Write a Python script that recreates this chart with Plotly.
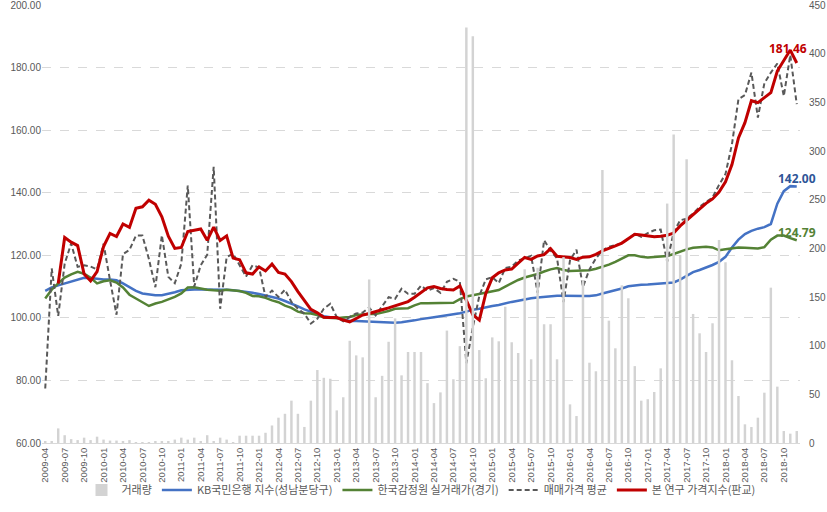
import plotly.graph_objects as go

# monthly categories 2009-04 .. 2018-12
months = []
y, m = 2009, 4
for _ in range(117):
    months.append(f"{y}-{m:02d}")
    m += 1
    if m > 12:
        m = 1
        y += 1

tick_labels = months[::3]

volume = [2, 2, 15, 8, 4, 3, 5.5, 3, 6.5, 3.5, 2.5, 2.5, 1.5, 3, 0.5, 1, 1, 1.5, 1.5, 2,
          3.5, 5.5, 3.5, 5.5, 2, 8, 2, 5.5, 3.5, 1, 7.5, 7.5, 7.5, 7.5, 10.5, 18, 26, 30, 43.5, 30,
          16.5, 43.5, 75, 67, 66, 33.5, 47, 105, 90, 88, 168, 47, 69, 104, 128, 69.5, 93.5, 93.5, 93.5, 61.5,
          41, 52, 115.5, 65.5, 99.5, 427, 418, 95.5, 66.5, 108.5, 104.5, 140, 103.5, 92.5, 178.5, 86, 180, 122, 122, 86,
          191, 39.7, 27.7, 167.5, 82.5, 73.7, 280.6, 125.7, 97.3, 162, 148.7, 79, 43.5, 45, 52.4, 76.7, 246, 317, 193, 291.5,
          132.6, 112.7, 93.5, 123, 208.6, 185.7, 85, 48.3, 19.2, 16.4, 26, 51.7, 159.6, 57.9, 12.3, 9.6, 12.3]

kb_index = [108.6, 109.7, 110.4, 111.0, 111.8, 112.4, 112.8, 112.7, 112.4, 112.3, 112.3, 112.0, 111.0, 109.7, 108.6, 107.8, 107.4, 107.2, 107.2, 107.6,
            108.2, 108.8, 109.0, 109.1, 109.1, 109.1, 109.1, 109.0, 109.0, 108.8, 108.6, 108.3, 108.0, 107.6, 107.2, 106.7, 106.2, 105.4, 104.6, 103.7,
            102.7, 101.9, 101.2, 100.5, 100.2, 100.0, 99.5, 99.0, 99.0, 98.9, 98.9, 98.8, 98.6, 98.4, 98.4, 98.6, 98.8, 99.2, 99.6, 100.0,
            100.2, 100.5, 100.8, 101.1, 101.5, 102.0, 102.6, 102.9, 103.4, 103.8, 104.1, 104.7, 105.1, 105.5, 106.0, 106.3, 106.5, 106.7, 107.0, 107.1,
            107.1, 107.0, 107.0, 107.0, 107.0, 107.2, 107.8, 108.3, 108.8, 109.4, 110.1, 110.4, 110.6, 110.7, 110.9, 110.9, 111.2, 111.3, 112.2, 113.4,
            114.6, 115.3, 116.0, 116.9, 117.9, 119.5, 122.5, 125.0, 126.8, 127.8, 128.5, 129.0, 130.0, 136.5, 140.5, 142.1, 142.0]

kab_index = [106.2, 109.0, 111.0, 112.9, 113.9, 114.7, 114.1, 112.8, 111.0, 111.7, 112.0, 111.3, 109.7, 107.4, 106.2, 105.1, 103.8, 104.6, 105.1, 105.9,
             106.7, 107.8, 109.7, 109.8, 109.3, 109.0, 108.8, 108.7, 109.0, 108.8, 108.6, 108.0, 107.0, 106.9, 106.4, 105.6, 105.0, 103.9, 103.2, 102.0,
             101.5, 101.4, 100.9, 100.1, 100.0, 99.9, 100.1, 100.3, 100.9, 101.1, 101.2, 101.2, 101.6, 102.2, 102.9, 103.0, 103.1, 104.0, 104.7, 104.7,
             104.7, 104.7, 104.7, 104.8, 106.0, 106.8, 107.2, 107.6, 107.9, 108.4, 108.9, 110.0, 111.1, 112.1, 112.9, 113.4, 114.0, 114.8, 115.5, 115.9,
             115.3, 115.0, 115.0, 115.0, 115.2, 115.7, 116.3, 117.0, 117.9, 118.9, 120.0, 120.0, 119.5, 119.3, 119.5, 119.7, 119.8, 120.4, 121.2, 121.9,
             122.4, 122.6, 122.7, 122.5, 121.6, 121.9, 122.3, 122.5, 122.4, 122.3, 122.2, 122.6, 125.0, 126.3, 126.3, 125.5, 124.79]

avg_price = [77.4, 115.8, 100.6, 117.3, 123.8, 116.3, 116.8, 116.4, 115.5, 123.7, 112.0, 101.0, 120.4, 121.7, 126.3, 126.3, 118.8, 109.8, 126.4, 113.1,
             111.1, 117.3, 142.3, 110.0, 116.8, 120.2, 148.3, 102.9, 119.4, 120.5, 116.8, 113.2, 116.8, 116.1, 106.7, 108.7, 106.7, 109.0, 105.1, 102.9,
             101.3, 98.2, 99.7, 102.9, 104.5, 100.2, 98.9, 100.3, 101.4, 101.7, 103.3, 100.8, 103.7, 106.6, 106.1, 109.3, 107.7, 107.7, 110.3, 108.7,
             109.5, 108.0, 111.5, 112.5, 111.5, 85.5, 97.0, 107.0, 112.3, 113.0, 111.1, 115.9, 116.4, 118.3, 119.0, 119.8, 108.0, 124.8, 121.5, 119.0,
             105.0, 118.4, 121.8, 109.9, 115.5, 119.0, 121.6, 122.7, 123.3, 123.8, 125.3, 126.9, 125.9, 127.1, 128.0, 128.2, 117.9, 127.4, 131.2, 131.7,
             133.3, 135.5, 137.0, 138.5, 142.5, 146.0, 155.5, 169.9, 171.2, 178.4, 164.0, 175.0, 178.4, 181.3, 170.9, 184.0, 168.3]

study_index = [None, None, 111.0, 125.7, 124.2, 123.1, 114.0, 111.8, 114.8, 122.8, 127.0, 126.0, 130.0, 128.9, 135.0, 135.5, 137.6, 136.3, 132.3, 126.1,
               122.2, 122.5, 127.6, 128.0, 128.4, 124.8, 129.0, 124.7, 126.2, 119.1, 118.6, 114.4, 114.0, 116.3, 115.0, 117.2, 114.5, 114.0, 111.6, 108.4,
               105.5, 102.7, 101.6, 100.2, 100.1, 100.1, 99.3, 98.7, 99.8, 100.9, 101.4, 101.9, 102.6, 103.2, 103.9, 104.6, 105.2, 106.6, 108.2, 109.6,
               110.0, 109.4, 109.1, 108.9, 110.2, 105.5, 101.0, 99.3, 107.8, 112.8, 114.4, 115.3, 115.6, 117.5, 119.3, 118.7, 119.8, 120.2, 122.1, 119.7,
               119.6, 119.3, 118.7, 119.4, 119.5, 120.3, 121.4, 122.1, 123.0, 123.9, 125.3, 126.7, 126.5, 126.1, 125.9, 126.1, 126.4, 127.1, 129.4, 131.2,
               133.1, 135.0, 136.6, 138.0, 140.2, 143.5, 149.0, 157.5, 162.4, 169.4, 168.8, 170.4, 172.0, 178.9, 182.3, 185.6, 181.46]

FONT = "Noto Sans CJK KR, Noto Sans, sans-serif"
NUM_FONT = "Liberation Sans, Arial, sans-serif"
TICK_COLOR = "#595959"


def end_label(values):
    return [""] * (len(values) - 1) + [f"{values[-1]:.2f}"]


fig = go.Figure()

fig.add_trace(go.Bar(
    x=months, y=volume, name="거래량", yaxis="y2",
    marker=dict(color="#D3D3D3", line=dict(width=0)),
))

fig.add_trace(go.Scatter(
    x=months, y=kb_index, name="KB국민은행 지수(성남분당구)", mode="lines+text",
    line=dict(color="#4472C4", width=2.5),
    text=end_label(kb_index), textposition="top center",
    textfont=dict(color="#2F5597", size=12, family="Noto Sans, sans-serif", weight="bold"),
    cliponaxis=False,
))

fig.add_trace(go.Scatter(
    x=months, y=kab_index, name="한국감정원 실거래가(경기)", mode="lines+text",
    line=dict(color="#548235", width=2.5),
    text=end_label(kab_index), textposition="top center",
    textfont=dict(color="#548235", size=12, family="Noto Sans, sans-serif", weight="bold"),
    cliponaxis=False,
))

fig.add_trace(go.Scatter(
    x=months, y=avg_price, name="매매가격 평균", mode="lines",
    line=dict(color="#595959", width=2, dash="5px,3px"),
))

fig.add_trace(go.Scatter(
    x=months, y=study_index, name="본 연구 가격지수(판교)", mode="lines",
    line=dict(color="#C00000", width=3),
))

# data label for the last value of the study index
fig.add_annotation(
    x=months[-1], y=study_index[-1], text=f"{study_index[-1]:.2f}",
    showarrow=False, yshift=15, xshift=-9, xanchor="center",
    font=dict(color="#C00000", size=12, family="Noto Sans, sans-serif", weight="bold"),
)

fig.update_layout(
    width=827, height=512,
    margin=dict(l=42, r=27, t=5, b=69, autoexpand=False),
    paper_bgcolor="white", plot_bgcolor="white",
    bargap=0.62,
    showlegend=True,
    legend=dict(orientation="h", x=0.5, xanchor="center",
                yref="container", y=0.043, yanchor="middle",
                font=dict(family=FONT, size=11, color=TICK_COLOR),
                itemwidth=30, traceorder="normal", tracegroupgap=0,
                bgcolor="rgba(0,0,0,0)"),
    font=dict(family=FONT, color=TICK_COLOR),
    xaxis=dict(
        type="category", categoryorder="array", categoryarray=months,
        range=[-0.5, len(months) - 0.5],
        tickmode="array", tickvals=tick_labels, ticktext=tick_labels,
        tickangle=-90, tickfont=dict(size=9.5, color=TICK_COLOR, family=NUM_FONT),
        showgrid=False, showline=True, linecolor="#D9D9D9", ticks="",
    ),
    yaxis=dict(
        range=[60, 200], dtick=20, tickformat=".2f",
        tickfont=dict(size=10, color=TICK_COLOR, family=NUM_FONT),
        ticklabeloverflow="allow",
        showgrid=True, gridcolor="#D9D9D9", griddash="dash", gridwidth=1,
        zeroline=False, showline=False,
    ),
    yaxis2=dict(
        range=[0, 450], dtick=50, overlaying="y", side="right",
        tickfont=dict(size=10, color=TICK_COLOR, family=NUM_FONT),
        ticklabeloverflow="allow", ticklabelstandoff=8,
        showgrid=False, zeroline=False, showline=False,
    ),
)

fig.write_html("out.html")
